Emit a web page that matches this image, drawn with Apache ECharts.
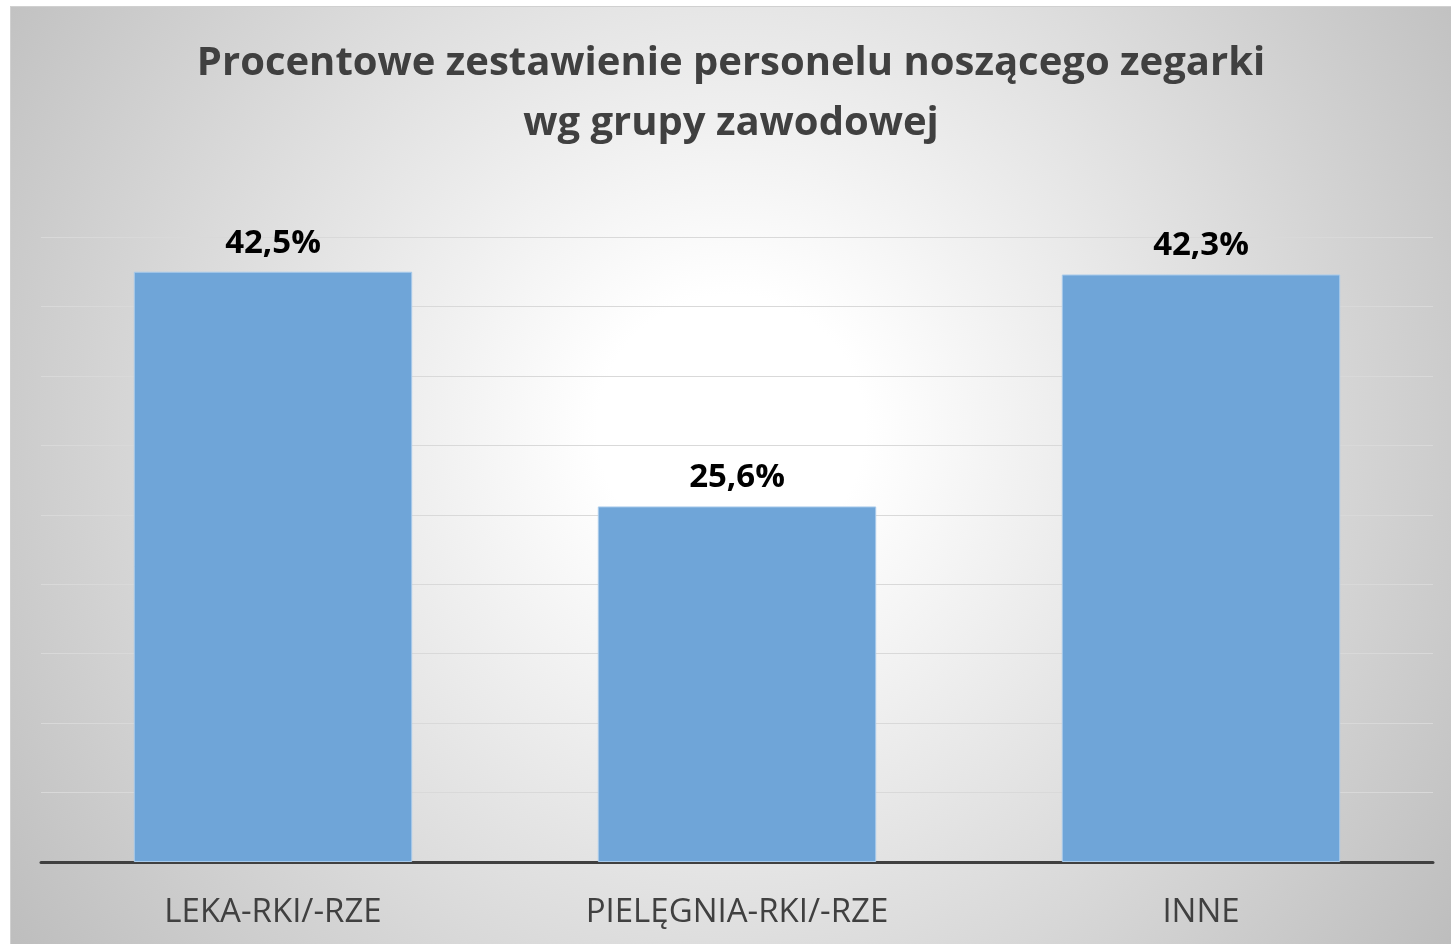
<!DOCTYPE html>
<html>
<head>
<meta charset="utf-8">
<script src="https://cdn.jsdelivr.net/npm/echarts@6/dist/echarts.min.js"></script>
<style>
html, body { margin: 0; padding: 0; background: #fff; }
#chart { position: absolute; left: 10px; top: 6px; width: 1441px; height: 938px; border-top: 1px solid #d0d0d0; border-left: 1px solid #d0d0d0; box-sizing: border-box; }
</style>
</head>
<body>
<div id="chart"></div>
<script>
// grupy zawodowe i udział (%)
var categories = ['LEKA-RKI/-RZE', 'PIELĘGNIA-RKI/-RZE', 'INNE'];
var values = [42.5, 25.6, 42.3];
var titleText = 'Procentowe zestawienie personelu noszącego zegarki\nwg grupy zawodowej';

var chart = echarts.init(document.getElementById('chart'));
chart.setOption({
    animation: false,
    backgroundColor: {
        type: 'radial',
        x: 0.5,
        y: 0.45,
        r: 0.95,
        colorStops: [
            { offset: 0, color: '#ffffff' },
            { offset: 0.15, color: '#ffffff' },
            { offset: 1, color: '#bdbdbd' }
        ]
    },
    title: {
        text: titleText,
        left: 'center',
        top: 22,
        textStyle: {
            fontFamily: 'Open Sans',
            fontWeight: 'bold',
            fontSize: 40,
            lineHeight: 60,
            color: '#404040'
        }
    },
    grid: {
        left: 30,
        right: 18,
        top: 230,
        bottom: 82
    },
    xAxis: {
        type: 'category',
        data: categories,
        axisTick: { show: false },
        axisLine: { lineStyle: { color: '#404040', width: 3 } },
        axisLabel: {
            margin: 34,
            fontFamily: 'Open Sans',
            fontSize: 33,
            color: '#404040'
        }
    },
    yAxis: {
        type: 'value',
        min: 0,
        max: 45,
        interval: 5,
        axisLabel: { show: false },
        axisLine: { show: false },
        axisTick: { show: false },
        splitLine: { lineStyle: { color: '#d9d9d9', width: 1 } }
    },
    series: [{
        type: 'bar',
        data: values,
        barWidth: '60%',
        itemStyle: {
            color: '#6fa5d8',
            borderColor: '#a9cbeb',
            borderWidth: 1
        },
        label: {
            show: true,
            position: 'top',
            distance: 12,
            fontFamily: 'Open Sans',
            fontWeight: 'bold',
            fontSize: 33,
            color: '#000000',
            formatter: function (p) {
                return p.value.toFixed(1).replace('.', ',') + '%';
            }
        }
    }]
});
</script>
</body>
</html>
